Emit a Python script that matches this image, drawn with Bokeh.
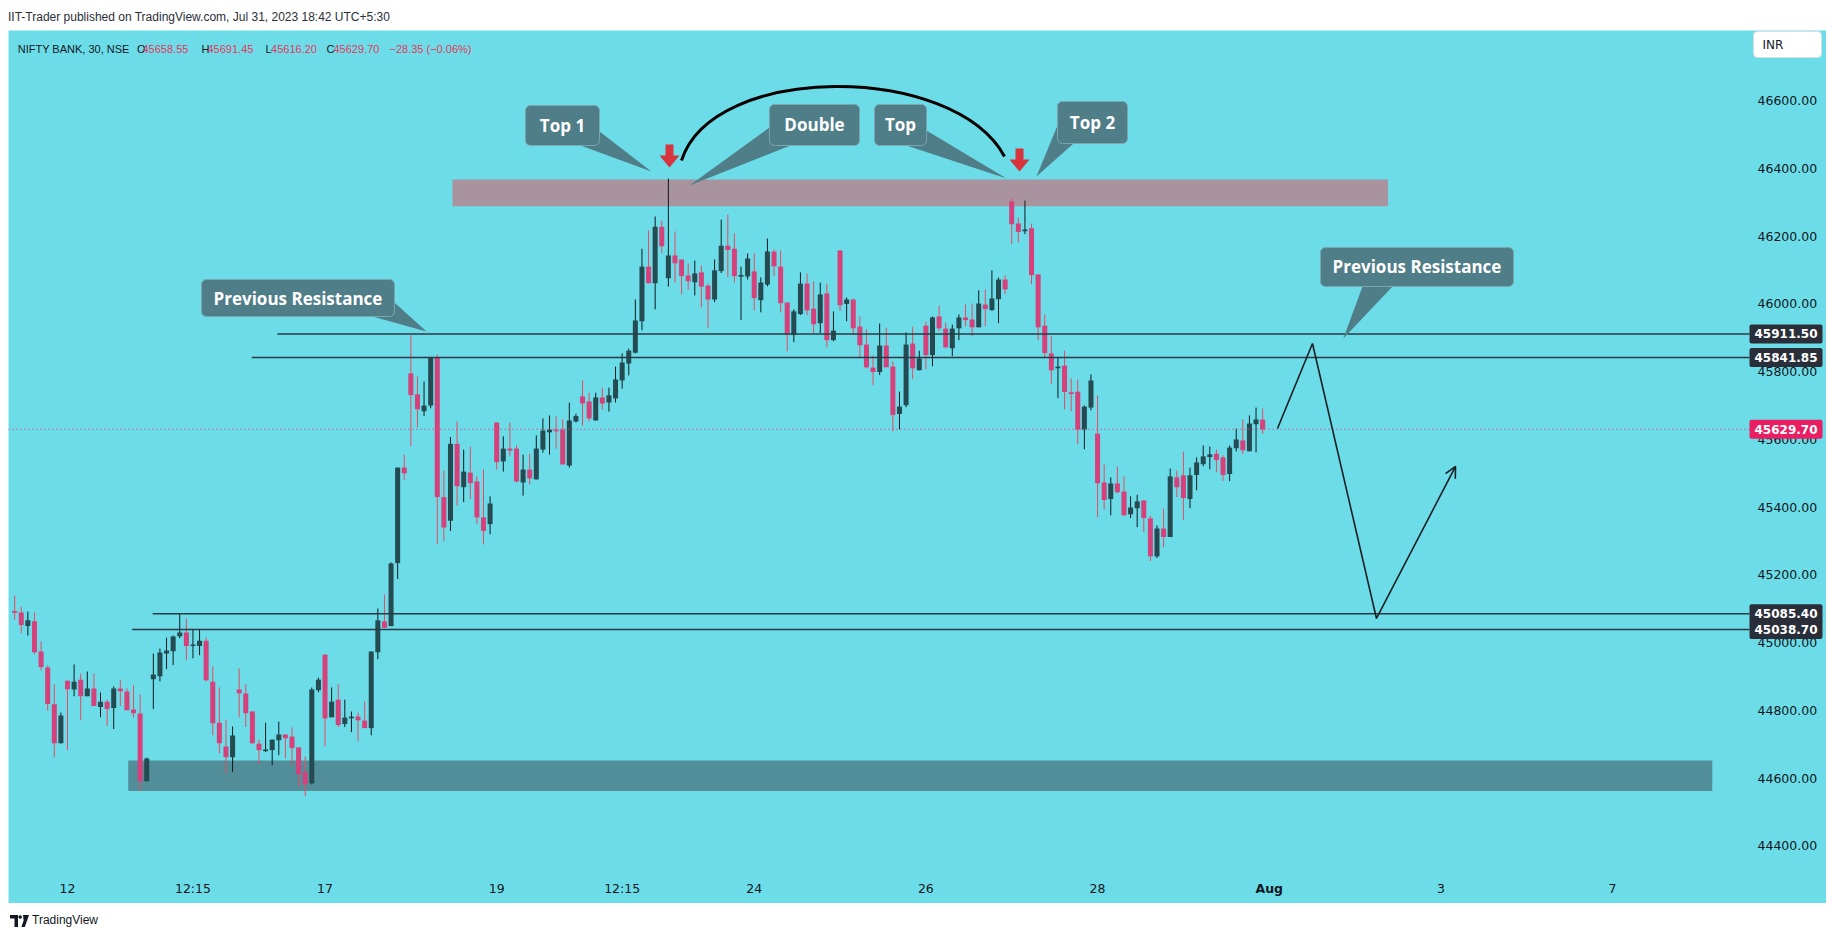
from bokeh.plotting import figure
from bokeh.models import (Range1d, FixedTicker, NumeralTickFormatter, Label, Div,
                          Arrow, OpenHead, Quad)
from bokeh.layouts import column
from bokeh.core.properties import value
from bokeh.embed import file_html
from bokeh.resources import INLINE

# ---------------- data (NIFTY BANK, 30 min, bar index 0 = 12 Jul 09:15) ----------------
BAR = list(range(-8, 182))
OPEN = [45092, 45089, 45049, 45063, 44974, 44927, 44818, 44703,
        44888, 44862, 44891, 44842, 44865, 44810, 44826, 44807, 44865, 44856, 44803, 44791, 44591,
        44892, 44901, 44968, 44975, 45019, 45030, 44990, 44990, 45006, 44885, 44764, 44694, 44662,
        44862, 44850, 44797, 44702, 44680, 44683, 44712, 44729, 44723, 44691, 44617, 44585, 44860,
        44965, 44780, 44832, 44760, 44777, 44782, 44770, 44748, 44972, 45063, 45049, 45235, 45517,
        45795, 45733, 45683, 45700, 45841, 45430, 45360, 45587, 45459, 45502, 45476, 45370, 45350,
        45650, 45535, 45573, 45573, 45473, 45511, 45482, 45570, 45621, 45629, 45629, 45523, 45653,
        45727, 45712, 45656, 45724, 45709, 45721, 45774, 45824, 45856, 45949, 46110, 46061, 46228,
        46076, 46143, 46131, 46084, 46064, 46093, 46054, 46013, 46097, 46172, 46163, 46082, 46081,
        46096, 46011, 46057, 46155, 46110, 46004, 45908, 45970, 46060, 45986, 45943, 46031, 45893,
        46158, 46000, 46013, 45933, 45880, 45812, 45799, 45877, 45815, 45675, 45701, 45883, 45804,
        45936, 45849, 45963, 45927, 45869, 45928, 45960, 45954, 45931, 45998, 45982, 46014, 46072,
        46302, 46237, 46215, 46223, 46087, 45936, 45854, 45810, 45818, 45739, 45741, 45629, 45694,
        45617, 45473, 45424, 45470, 45446, 45379, 45397, 45420, 45367, 45255, 45337, 45312, 45488,
        45494, 45424, 45495, 45527, 45548, 45558, 45547, 45498, 45574, 45597, 45565, 45645, 45658.55]
HIGH = [45139, 45107, 45092, 45089, 45004, 44933, 44877, 44794,
        44888, 44936, 44909, 44915, 44909, 44853, 44832, 44871, 44891, 44865, 44874, 44847, 44661,
        44968, 44983, 45015, 45021, 45087, 45071, 45039, 45039, 45015, 44930, 44868, 44773, 44753,
        44924, 44877, 44797, 44714, 44764, 44714, 44767, 44729, 44750, 44691, 44664, 44868, 44897,
        44965, 44868, 44877, 44832, 44797, 44794, 44826, 44974, 45101, 45142, 45237, 45517, 45555,
        45907, 45786, 45771, 45843, 45851, 45508, 45607, 45653, 45570, 45579, 45491, 45511, 45432,
        45650, 45609, 45650, 45582, 45555, 45558, 45612, 45662, 45671, 45668, 45659, 45709, 45676,
        45774, 45738, 45738, 45753, 45753, 45815, 45854, 45868, 46013, 46163, 46217, 46258, 46246,
        46370, 46214, 46131, 46119, 46128, 46113, 46060, 46131, 46249, 46264, 46208, 46110, 46149,
        46149, 46078, 46193, 46161, 46158, 46004, 45984, 46093, 46090, 46066, 46063, 46060, 45978,
        46158, 46019, 46016, 45963, 45924, 45848, 45942, 45930, 45830, 45741, 45916, 45933, 45862,
        45948, 45963, 45995, 45945, 45939, 45969, 45998, 46001, 46040, 46043, 46099, 46078, 46084,
        46311, 46255, 46305, 46237, 46087, 45969, 45904, 45840, 45862, 45780, 45777, 45700, 45792,
        45730, 45526, 45488, 45520, 45491, 45432, 45437, 45420, 45375, 45346, 45396, 45514, 45508,
        45564, 45517, 45547, 45582, 45579, 45570, 45553, 45582, 45632, 45659, 45671, 45694, 45691.45]
LOW = [45068, 45028, 45021, 44966, 44918, 44800, 44662, 44703,
       44683, 44842, 44771, 44842, 44813, 44780, 44754, 44745, 44813, 44801, 44780, 44562, 44591,
       44804, 44886, 44922, 44934, 45013, 44948, 44954, 44963, 44886, 44727, 44674, 44613, 44618,
       44780, 44751, 44701, 44642, 44677, 44638, 44668, 44659, 44638, 44574, 44547, 44582, 44854,
       44695, 44780, 44751, 44751, 44736, 44709, 44748, 44727, 44951, 45044, 45049, 45188, 45480,
       45580, 45636, 45669, 45692, 45290, 45300, 45330, 45405, 45415, 45424, 45350, 45290, 45320,
       45511, 45505, 45550, 45473, 45434, 45467, 45482, 45561, 45555, 45573, 45526, 45517, 45650,
       45641, 45653, 45656, 45688, 45682, 45709, 45750, 45789, 45854, 45922, 46061, 45984, 46150,
       46051, 46063, 46028, 46042, 46025, 45990, 45928, 46005, 46091, 46079, 46063, 45952, 46072,
       45981, 45975, 46052, 46082, 45975, 45860, 45887, 45967, 45967, 45914, 45914, 45872, 45890,
       45979, 45949, 45908, 45840, 45810, 45760, 45790, 45813, 45624, 45630, 45695, 45778, 45804,
       45807, 45816, 45920, 45869, 45846, 45893, 45934, 45905, 45931, 45934, 45979, 45943, 46029,
       46176, 46182, 46206, 46058, 45893, 45843, 45763, 45722, 45689, 45683, 45586, 45571, 45686,
       45371, 45393, 45376, 45441, 45374, 45368, 45341, 45326, 45241, 45250, 45282, 45312, 45430,
       45362, 45397, 45450, 45521, 45512, 45503, 45477, 45477, 45565, 45557, 45565, 45562, 45616.20]
CLOSE = [45090, 45052, 45066, 44972, 44928, 44819, 44703, 44785,
         44863, 44885, 44842, 44865, 44813, 44826, 44804, 44865, 44857, 44801, 44792, 44591, 44658,
         44906, 44971, 44977, 45018, 45030, 44990, 44995, 45006, 44889, 44762, 44703, 44662, 44726,
         44851, 44792, 44703, 44683, 44685, 44714, 44729, 44718, 44689, 44612, 44582, 44862, 44891,
         44777, 44826, 44757, 44779, 44782, 44771, 44748, 44974, 45066, 45044, 45234, 45517, 45500,
         45731, 45689, 45700, 45843, 45430, 45340, 45587, 45462, 45505, 45471, 45370, 45330, 45411,
         45533, 45573, 45567, 45476, 45511, 45485, 45573, 45626, 45629, 45624, 45526, 45656, 45669,
         45706, 45662, 45724, 45706, 45730, 45777, 45827, 45862, 45951, 46110, 46061, 46228, 46170,
         46143, 46120, 46082, 46067, 46090, 46051, 46013, 46099, 46172, 46159, 46082, 46084, 46134,
         46017, 46063, 46155, 46111, 46002, 45911, 45978, 46060, 45981, 45940, 46028, 45893, 45921,
         45996, 46013, 45928, 45878, 45813, 45799, 45877, 45813, 45672, 45697, 45880, 45810, 45839,
         45849, 45960, 45928, 45872, 45927, 45960, 45952, 45931, 46001, 45985, 46016, 46072, 46043,
         46235, 46212, 46219, 46085, 45931, 45855, 45804, 45815, 45740, 45734, 45629, 45697, 45774,
         45471, 45421, 45470, 45444, 45376, 45399, 45417, 45368, 45255, 45337, 45312, 45491, 45459,
         45427, 45494, 45532, 45550, 45556, 45539, 45495, 45576, 45600, 45568, 45647, 45659, 45629.70]

TIME_TICKS = [0, 19, 39, 65, 84, 104, 130, 156, 182, 208, 234]
TIME_LABELS = ["12", "12:15", "17", "19", "12:15", "24", "26", "28", "Aug", "3", "7"]
PRICE_TICKS = [44400, 44600, 44800, 45000, 45200, 45400, 45600, 45800, 46000, 46200, 46400, 46600]

# horizontal levels (price, starting bar)
LEVELS = [45911.50, 45841.85, 45085.40, 45038.70]
LEVEL_FROM = [31.8, 27.9, 12.9, 9.8]

# zones
ZONE_LEFT = [58.3, 9.2]
ZONE_RIGHT = [200.0, 249.1]
ZONE_BOTTOM = [46288, 44562]
ZONE_TOP = [46367, 44652]
ZONE_COLOR = ["#a8939f", "#528e9a"]

# callouts
CALLOUT_TEXT = ["Top 1", "Double", "Top", "Top 2", "Previous Resistance", "Previous Resistance"]
CALLOUT_L = [69.36, 106.31, 122.22, 149.93, 20.29, 189.76]
CALLOUT_R = [80.57, 119.95, 130.09, 160.53, 49.52, 218.99]
CALLOUT_T = [46585.6, 46588.6, 46588.6, 46597.4, 46072.0, 46166.5]
CALLOUT_B = [46467.6, 46467.6, 46467.6, 46473.5, 45962.8, 46051.4]
TAIL_X = [[77.69, 80.57, 88.44], [106.31, 109.50, 94.20], [127.06, 130.09, 142.21],
          [149.93, 152.35, 146.75], [46.19, 49.52, 54.37], [196.12, 200.67, 193.22]]
TAIL_Y = [[46467.6, 46508.9, 46390.8], [46520.7, 46467.6, 46349.5], [46467.6, 46511.9, 46370.2],
          [46526.6, 46473.5, 46376.1], [45962.8, 46004.2, 45918.6], [46051.4, 46051.4, 45897.9]]

# marker arrows above the two tops (bar, tip price)
ARROW_BAR = [91.17, 144.18]
ARROW_TIP = [46402.7, 46390.8]

# arc over the double top
ARC = dict(x0=92.99, y0=46423.3, x1=141.91, y1=46435.1,
           cx0=97.68, cy0=46712.6, cx1=134.18, cy1=46712.6)

# projected path
PATH_BAR = [183.25, 188.55, 198.24, 210.21]
PATH_PRICE = [45632.3, 45883.2, 45071.5, 45520.2]

LEGEND_CHANGE = "\u221228.35 (\u22120.06%)"

# ---------------- styling / geometry ----------------
BG = "#6cdde8"
BULL_BODY, BULL_WICK = "#244b52", "#0e1b1e"
BEAR_BODY, BEAR_WICK = "#d6417b", "#e84a60"
LINE_DARK = "#2c3a43"
CALL_FILL = "#4f7d88"
RED_TXT = "#e3385c"
TXT = "#131722"

W, H = 1818, 873
TIME_AXIS_H = 28
PPB = 6.603                        # px per bar
XL = -8.935
XR = XL + W / PPB                  # frame spans the full width (price scale included)
AXIS_X = XL + 1741 / PPB           # where the price scale begins
YB0, YT = 44312.9, 46807.0         # price span of the candle pane
PPP = (H - TIME_AXIS_H) / (YT - YB0)
YB = YB0 - TIME_AXIS_H / PPP       # frame extends down over the time scale

def fx(px):   # px from chart left -> bar units
    return XL + px / PPB
def fy(py):   # px from chart top -> price units
    return YT - py / PPP

p = figure(width=W, height=H, x_range=Range1d(XL, XR), y_range=Range1d(YB, YT),
           output_backend="svg", toolbar_location=None, y_axis_location="right",
           min_border_left=0, min_border_top=0, min_border_right=0, min_border_bottom=0)
p.background_fill_color = BG
p.border_fill_color = BG
p.outline_line_color = None
p.grid.visible = False

# axes (drawn inside the frame at fixed locations, like TradingView's scales)
yax = p.yaxis[0]
yax.ticker = FixedTicker(ticks=PRICE_TICKS)
yax.formatter = NumeralTickFormatter(format="0.00")
yax.fixed_location = AXIS_X
xax = p.xaxis[0]
xax.ticker = FixedTicker(ticks=TIME_TICKS)
xax.major_label_overrides = {t: ("" if l == "Aug" else l) for t, l in zip(TIME_TICKS, TIME_LABELS)}
xax.fixed_location = YB0
for ax in (xax, yax):
    ax.axis_line_color = None
    ax.major_tick_line_color = None
    ax.minor_tick_line_color = None
    ax.major_tick_out = 0
    ax.major_tick_in = 0
    ax.major_label_text_font = "DejaVu Sans"
    ax.major_label_text_font_size = "12.5px"
    ax.major_label_text_color = TXT
yax.major_label_standoff = 8
xax.major_label_standoff = 5

# month label in bold
aug = TIME_TICKS[TIME_LABELS.index("Aug")]
p.text(x=[aug], y=[YB0 - 5 / PPP], text=["Aug"], text_font=value("DejaVu Sans"),
       text_font_size="12.5px", text_font_style="bold", text_color=TXT,
       text_align="center", text_baseline="top")

# zones
p.quad(left=ZONE_LEFT, right=ZONE_RIGHT, bottom=ZONE_BOTTOM, top=ZONE_TOP,
       fill_color=ZONE_COLOR, line_color=None)

# candles
up = [c >= o for o, c in zip(OPEN, CLOSE)]
MINB = 5.0
def body(o, c):
    t, b = max(o, c), min(o, c)
    if t - b < MINB:
        m = (t + b) / 2
        t, b = m + MINB / 2, m - MINB / 2
    return t, b
for flag, wick, fill in ((True, BULL_WICK, BULL_BODY), (False, BEAR_WICK, BEAR_BODY)):
    idx = [i for i, u in enumerate(up) if u == flag]
    xs = [BAR[i] for i in idx]
    p.segment(x0=xs, y0=[LOW[i] for i in idx], x1=xs, y1=[HIGH[i] for i in idx],
              line_color=wick, line_width=1)
    tb = [body(OPEN[i], CLOSE[i]) for i in idx]
    p.vbar(x=xs, width=0.76, top=[t for t, b in tb], bottom=[b for t, b in tb],
           fill_color=fill, line_color=None)

# levels
p.segment(x0=LEVEL_FROM, y0=LEVELS, x1=[AXIS_X] * len(LEVELS), y1=LEVELS,
          line_color=LINE_DARK, line_width=1.5)

# last price dotted line
p.segment(x0=[XL], y0=[CLOSE[-1]], x1=[AXIS_X], y1=[CLOSE[-1]], line_color="#e0457b",
          line_width=1.3, line_dash="1 3")

# arc
p.bezier(line_color="black", line_width=3, **ARC)

# red marker arrows
def arrow_poly(bx, ty):
    hw, hh, sw, sl = 10 / PPB, 12 / PPP, 4 / PPB, 11 / PPP
    xs = [bx, bx + hw, bx + sw, bx + sw, bx - sw, bx - sw, bx - hw]
    ys = [ty, ty + hh, ty + hh, ty + hh + sl, ty + hh + sl, ty + hh, ty + hh]
    return xs, ys
polys = [arrow_poly(b, t) for b, t in zip(ARROW_BAR, ARROW_TIP)]
p.patches(xs=[a for a, b in polys], ys=[b for a, b in polys], fill_color="#d8343d", line_color=None)

# projected zigzag
p.line(PATH_BAR, PATH_PRICE, line_color="#1b1f24", line_width=1.6)
p.add_layout(Arrow(end=OpenHead(size=11, line_width=1.6, line_color="#1b1f24"),
                   x_start=PATH_BAR[-2], y_start=PATH_PRICE[-2],
                   x_end=PATH_BAR[-1], y_end=PATH_PRICE[-1],
                   line_width=0, line_alpha=0))

# callouts
p.patches(xs=TAIL_X, ys=TAIL_Y, fill_color=CALL_FILL, line_color=None)
qkw = dict(left=CALLOUT_L, right=CALLOUT_R, top=CALLOUT_T, bottom=CALLOUT_B,
           fill_color=CALL_FILL, line_color="#7aa6b0", line_width=1)
has_radius = "border_radius" in Quad.properties()
if has_radius:
    qkw["border_radius"] = 5
p.quad(**qkw)
p.text(x=[(l + r) / 2 for l, r in zip(CALLOUT_L, CALLOUT_R)],
       y=[(t + b) / 2 for t, b in zip(CALLOUT_T, CALLOUT_B)],
       text=CALLOUT_TEXT, text_font=value("Open Sans"), text_font_size="17px",
       text_font_style="bold", text_color="white", text_align="center", text_baseline="middle")

# legend line (top-left)
pieces = [("NIFTY BANK, 30, NSE", 9.2, TXT),
          ("O", 128.6, TXT), (f"{OPEN[-1]:.2f}", 134.0, RED_TXT),
          ("H", 193.0, TXT), (f"{HIGH[-1]:.2f}", 199.0, RED_TXT),
          ("L", 257.0, TXT), (f"{LOW[-1]:.2f}", 262.6, RED_TXT),
          ("C", 318.0, TXT), (f"{CLOSE[-1]:.2f}", 325.0, RED_TXT),
          (LEGEND_CHANGE, 381.0, RED_TXT)]
p.text(x=[fx(px) for _, px, _ in pieces], y=[fy(18.6)] * len(pieces),
       text=[t for t, _, _ in pieces], text_color=[c for _, _, c in pieces],
       text_font=value("Liberation Sans"), text_font_size="11px", text_baseline="middle")

# INR box
ikw = dict(left=[fx(1745)], right=[fx(1813)], top=[fy(1)], bottom=[fy(27)],
           fill_color="white", line_color="#d8dde3", line_width=1)
if has_radius:
    ikw["border_radius"] = 4
p.quad(**ikw)
p.text(x=[fx(1754)], y=[fy(14)], text=["INR"], text_font=value("DejaVu Sans"),
       text_font_size="12px", text_color=TXT, text_baseline="middle")

# price tags on the scale
lab_props = set(Label.properties())
def tag(val, bg):
    kw = dict(x=AXIS_X, y=val, text=f"{val:.2f}", text_font="DejaVu Sans",
              text_font_style="bold", text_font_size="12px", text_color="white",
              text_baseline="middle", text_align="left",
              background_fill_color=bg, background_fill_alpha=1.0)
    if "padding" in lab_props:
        kw["padding"] = 5
    if "border_radius" in lab_props:
        kw["border_radius"] = 2
    p.add_layout(Label(**kw))
for v in LEVELS:
    tag(v, "#2a2e39")
tag(CLOSE[-1], "#e91e63")

header = Div(text="<div style=\"font-family:'Liberation Sans';font-size:12px;color:#2a2e39;"
                  "padding-top:2px;line-height:14px;white-space:nowrap\">"
                  "IIT-Trader published on TradingView.com, Jul 31, 2023 18:42 UTC+5:30</div>",
             width=W, height=22, margin=(0, 0, 0, 0))
logo = ("<svg width='19' height='12' viewBox='0 0 19 12' style='vertical-align:middle'>"
        "<path d='M0 0h8v12H4.5V3.5H0z' fill='#131722'/>"
        "<circle cx='10.2' cy='2' r='1.8' fill='#131722'/>"
        "<path d='M13 0h6l-4.2 12h-3.4l2.2-6.5z' fill='#131722'/></svg>")
footer = Div(text="<div style=\"font-family:'Liberation Sans';font-size:12px;color:#131722;"
                  "padding-top:9px;padding-left:2px;white-space:nowrap;display:flex;align-items:center;gap:3px\">"
                  + logo + "<span>TradingView</span></div>",
             width=W, height=30, margin=(0, 0, 0, 0))

layout = column(header, p, footer, spacing=0, margin=(8, 0, 0, 8))
open("out.html", "w").write(file_html(layout, INLINE))
